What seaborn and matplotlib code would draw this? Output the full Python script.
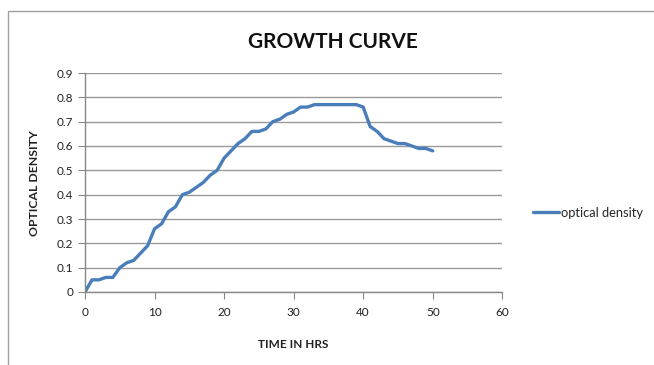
import pandas as pd
import matplotlib.pyplot as plt
import seaborn as sns
from matplotlib.patches import Rectangle

# Data
hours = list(range(0, 51))
optical_density = [0.00, 0.05, 0.05, 0.06, 0.06, 0.10, 0.12, 0.13, 0.16, 0.19,
                   0.26, 0.28, 0.33, 0.35, 0.40, 0.41, 0.43, 0.45, 0.48, 0.50,
                   0.55, 0.58, 0.61, 0.63, 0.66, 0.66, 0.67, 0.70, 0.71, 0.73,
                   0.74, 0.76, 0.76, 0.77, 0.77, 0.77, 0.77, 0.77, 0.77, 0.77,
                   0.76, 0.68, 0.66, 0.63, 0.62, 0.61, 0.61, 0.60, 0.59, 0.59,
                   0.58]
x_ticks = [0, 10, 20, 30, 40, 50, 60]
y_ticks = [0, 0.1, 0.2, 0.3, 0.4, 0.5, 0.6, 0.7, 0.8, 0.9]

df = pd.DataFrame({'time': hours, 'optical density': optical_density})

sns.set_style("white")
plt.rcParams['font.family'] = ['Lato', 'DejaVu Sans']

fig = plt.figure(figsize=(6.54, 3.65), dpi=100)
ax = fig.add_axes([0.130, 0.200, 0.638, 0.600])

# chart border like the spreadsheet chart area
fig.patches.append(Rectangle((8 / 654, -0.1), 2, 1.1 - 11 / 365, transform=fig.transFigure,
                             fill=False, edgecolor='#a0a0a0', linewidth=1))

sns.lineplot(x='time', y='optical density', data=df, ax=ax, color='#4a7ebb',
             linewidth=2.4, label='optical density')

ax.set_xlim(0, 60)
ax.set_ylim(0, 0.9)
ax.set_xticks(x_ticks)
ax.set_yticks(y_ticks)
ax.set_yticklabels(['0' if v == 0 else f'{v:g}' for v in y_ticks])
ax.yaxis.grid(True, color='#999999', linewidth=1)
ax.xaxis.grid(False)
for s in ['top', 'right']:
    ax.spines[s].set_visible(False)
for s in ['left', 'bottom']:
    ax.spines[s].set_color('#888888')
    ax.spines[s].set_linewidth(1)
ax.tick_params(axis='both', direction='out', length=5, color='#888888',
               labelsize=8.5, labelcolor='#222222', left=True, bottom=True)
ax.tick_params(axis='x', pad=6)

ax.set_xlabel('')
ax.set_ylabel('')
fig.text(293 / 654, 1 - 345 / 365, 'TIME IN HRS', ha='center', va='center',
         fontsize=8.5, fontweight='bold', color='#222222')
fig.text(35 / 654, 1 - 183 / 365, 'OPTICAL DENSITY', ha='center', va='center',
         rotation=90, fontsize=8.8, fontweight='bold', color='#222222')
fig.text(333 / 654, 1 - 42 / 365, 'GROWTH CURVE', ha='center', va='center',
         fontsize=15, fontweight='bold', color='#111111')

ax.legend(loc='center left', bbox_to_anchor=(527 / 654, 1 - 213 / 365),
          bbox_transform=fig.transFigure, frameon=False, fontsize=9.3,
          handlelength=2.0, handletextpad=0.1, borderpad=0)

fig.savefig('out.png', dpi=100)
